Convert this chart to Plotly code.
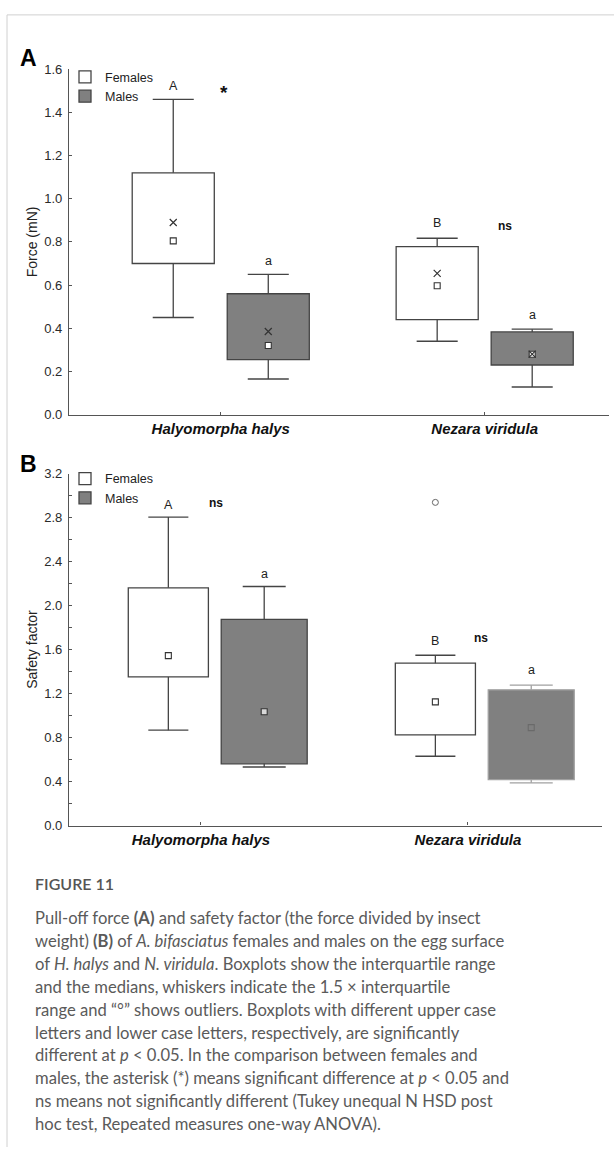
import plotly.graph_objects as go

W, H = 614, 1155

# ---------------- data ----------------
species = ["Halyomorpha halys", "Nezara viridula"]
species_labels = ["<b><i>Halyomorpha halys</i></b>", "<b><i>Nezara viridula</i></b>"]

# Panel A: pull-off force (mN)
force_f_q1 = [0.70, 0.44]
force_f_q3 = [1.12, 0.778]
force_f_low = [0.45, 0.34]
force_f_high = [1.46, 0.817]
force_f_median = [0.805, 0.597]
force_f_mean = [0.89, 0.654]

force_m_q1 = [0.255, 0.23]
force_m_q3 = [0.56, 0.383]
force_m_low = [0.165, 0.128]
force_m_high = [0.65, 0.396]
force_m_median = [0.32, 0.28]
force_m_mean = [0.385, 0.28]

force_f_letters = ["A", "B"]
force_f_letter_y = [1.52, 0.887]
force_m_letters = ["a", "a"]
force_m_letter_y = [0.713, 0.463]
force_sig = ["*", "ns"]
force_sig_y = [1.49, 0.873]

# Panel B: safety factor
sf_f_q1 = [1.351, 0.825]
sf_f_q3 = [2.161, 1.476]
sf_f_low = [0.867, 0.630]
sf_f_high = [2.804, 1.548]
sf_f_median = [1.545, 1.124]
sf_f_outlier = [None, 2.938]

sf_m_q1 = [0.561, 0.418]
sf_m_q3 = [1.874, 1.234]
sf_m_low = [0.532, 0.388]
sf_m_high = [2.173, 1.276]
sf_m_median = [1.034, 0.890]

sf_f_letters = ["A", "B"]
sf_f_letter_y = [2.918, 1.682]
sf_m_letters = ["a", "a"]
sf_m_letter_y = [2.287, 1.413]
sf_sig = ["ns", "ns"]
sf_sig_y = [2.935, 1.704]

caption_title = "FIGURE 11"
caption_lines = [
    "Pull-off force <b>(A)</b> and safety factor (the force divided by insect",
    "weight) <b>(B)</b> of <i>A. bifasciatus</i> females and males on the egg surface",
    "of <i>H. halys</i> and <i>N. viridula</i>. Boxplots show the interquartile range",
    "and the medians, whiskers indicate the 1.5 \u00d7 interquartile",
    "range and \u201c\u00b0\u201d shows outliers. Boxplots with different upper case",
    "letters and lower case letters, respectively, are significantly",
    "different at <i>p</i> &lt; 0.05. In the comparison between females and",
    "males, the asterisk (*) means significant difference at <i>p</i> &lt; 0.05 and",
    "ns means not significantly different (Tukey unequal N HSD post",
    "hoc test, Repeated measures one-way ANOVA).",
]

# ---------------- style ----------------
FONT = "Liberation Sans, Arial, sans-serif"
CAP_FONT = "Lato, Open Sans, sans-serif"
AX = "#555555"
BOX_LINE = "#444444"
MALE_FILL = "#808080"
cats = [0, 1]

# offsets of female / male boxes from the category position, and box widths
A_OFF = (-0.18, 0.18)
A_W = (0.311, 0.311)
B_OFF = (-0.122, 0.237)
B_W = (0.30, 0.322)


def px_x(p):
    return p / W


def px_y(p):
    return 1 - p / H


fig = go.Figure()


def add_group(xa, ya, xs, q1, q3, lo, hi, width, fill, line_colors, name, legend, show):
    # box body: bar from q1 to q3
    fig.add_trace(go.Bar(
        x=xs, base=q1, y=[b - a for a, b in zip(q1, q3)], width=width,
        marker=dict(color=fill, line=dict(color=line_colors, width=1.3)),
        name=name, showlegend=show, legend=legend, xaxis=xa, yaxis=ya,
        hoverinfo="skip"))
    # whiskers with caps
    for x, a, b, l, h, lc in zip(xs, q1, q3, lo, hi, line_colors):
        cap = width * 0.25
        fig.add_trace(go.Scatter(
            x=[x, x, None, x - cap, x + cap, None, x, x, None, x - cap, x + cap],
            y=[b, h, None, h, h, None, a, l, None, l, l],
            mode="lines", line=dict(color=lc, width=1.3),
            showlegend=False, xaxis=xa, yaxis=ya, hoverinfo="skip"))


# Panel A
add_group("x", "y", [c + A_OFF[0] for c in cats], force_f_q1, force_f_q3, force_f_low,
          force_f_high, A_W[0], "white", [BOX_LINE, BOX_LINE], "Females", "legend", True)
add_group("x", "y", [c + A_OFF[1] for c in cats], force_m_q1, force_m_q3, force_m_low,
          force_m_high, A_W[1], MALE_FILL, [BOX_LINE, BOX_LINE], "Males", "legend", True)

fig.add_trace(go.Scatter(
    x=[c + A_OFF[0] for c in cats] + [c + A_OFF[1] for c in cats],
    y=force_f_median + force_m_median, mode="markers",
    marker=dict(symbol="square", size=6, color="white",
                line=dict(color="#333333", width=1.1)),
    showlegend=False, xaxis="x", yaxis="y", hoverinfo="skip"))
fig.add_trace(go.Scatter(
    x=[c + A_OFF[0] for c in cats] + [c + A_OFF[1] for c in cats],
    y=force_f_mean + force_m_mean, mode="markers",
    marker=dict(symbol="x-thin-open", size=7, color="#333333",
                line=dict(color="#333333", width=1.2)),
    showlegend=False, xaxis="x", yaxis="y", hoverinfo="skip"))

# Panel B
add_group("x2", "y2", [c + B_OFF[0] for c in cats], sf_f_q1, sf_f_q3, sf_f_low,
          sf_f_high, B_W[0], "white", [BOX_LINE, BOX_LINE], "Females", "legend2", True)
add_group("x2", "y2", [c + B_OFF[1] for c in cats], sf_m_q1, sf_m_q3, sf_m_low,
          sf_m_high, B_W[1], MALE_FILL, [BOX_LINE, "#a0a0a0"], "Males", "legend2", True)

fig.add_trace(go.Scatter(
    x=[c + B_OFF[0] for c in cats] + [c + B_OFF[1] for c in cats],
    y=sf_f_median + sf_m_median, mode="markers",
    marker=dict(symbol="square", size=6,
                color=["white", "white", "#d8d8d8", MALE_FILL],
                line=dict(color=["#333333", "#333333", "#333333", "#6a6a6a"], width=1.1)),
    showlegend=False, xaxis="x2", yaxis="y2", hoverinfo="skip"))
fig.add_trace(go.Scatter(
    x=[c + B_OFF[0] for c in cats], y=sf_f_outlier, mode="markers",
    marker=dict(symbol="circle-open", size=6, color="#666666", line=dict(width=1)),
    showlegend=False, xaxis="x2", yaxis="y2", hoverinfo="skip"))

# ---------------- annotations ----------------
ann = []


def txt(x, y, s, xref, yref, size=12.5, bold=False, color="#222222"):
    ann.append(dict(x=x, y=y, xref=xref, yref=yref, text=("<b>%s</b>" % s) if bold else s,
                    showarrow=False, xanchor="center", yanchor="middle",
                    font=dict(family=FONT, size=size, color=color)))


for i, c in enumerate(cats):
    txt(c + A_OFF[0], force_f_letter_y[i], force_f_letters[i], "x", "y")
    txt(c + A_OFF[1], force_m_letter_y[i], force_m_letters[i], "x", "y")
    txt(c + B_OFF[0], sf_f_letter_y[i], sf_f_letters[i], "x2", "y2")
    txt(c + B_OFF[1], sf_m_letter_y[i], sf_m_letters[i], "x2", "y2")

txt(cats[0] + 0.013, force_sig_y[0], force_sig[0], "x", "y", size=19, bold=True, color="#111111")
txt(cats[1] + 0.076, force_sig_y[1], force_sig[1], "x", "y", size=12, bold=True, color="#111111")
txt(cats[0] + 0.056, sf_sig_y[0], sf_sig[0], "x2", "y2", size=12, bold=True, color="#111111")
txt(cats[1] + 0.049, sf_sig_y[1], sf_sig[1], "x2", "y2", size=12, bold=True, color="#111111")

# panel letters
for lab, py in (("A", 52), ("B", 463)):
    ann.append(dict(x=px_x(28), y=px_y(py), xref="paper", yref="paper", text="<b>%s</b>" % lab,
                    showarrow=False, xanchor="center", yanchor="middle",
                    font=dict(family=FONT, size=23, color="#000000")))

# caption
ann.append(dict(x=px_x(33), y=px_y(888), xref="paper", yref="paper", text=caption_title,
                showarrow=False, xanchor="left", yanchor="middle",
                font=dict(family=CAP_FONT, size=16, color="#555555", weight=600)))
for i, line in enumerate(caption_lines):
    ann.append(dict(x=px_x(33), y=px_y(923 + 23.2 * i), xref="paper", yref="paper", text=line,
                    showarrow=False, xanchor="left", yanchor="middle",
                    font=dict(family=CAP_FONT, size=16.6, color="#5a5a5a")))

# card border (top and left edges)
shapes = [
    dict(type="line", xref="paper", yref="paper", x0=px_x(7), x1=1, y0=px_y(8), y1=px_y(8),
         line=dict(color="#d0d0d0", width=1)),
    dict(type="line", xref="paper", yref="paper", x0=px_x(7), x1=px_x(7), y0=px_y(8), y1=0,
         line=dict(color="#d0d0d0", width=1)),
]

axis_common = dict(showline=True, linecolor=AX, linewidth=1.2, showgrid=False, zeroline=False,
                   ticks="inside", ticklen=3, tickcolor=AX, tickwidth=1,
                   tickfont=dict(family=FONT, size=13, color="#2a2a2a"))
xtickfont = dict(family=FONT, size=15, color="#111111")

fig.update_layout(
    width=W, height=H, margin=dict(l=0, r=0, t=0, b=0),
    paper_bgcolor="white", plot_bgcolor="white",
    showlegend=True, barmode="overlay",
    xaxis=dict(domain=[px_x(69), px_x(609)], range=[-0.575, 1.471], anchor="y",
               tickvals=cats, ticktext=species_labels,
               **{**axis_common, "tickfont": xtickfont}),
    yaxis=dict(domain=[px_y(413), px_y(63)], range=[0, 1.6], anchor="x",
               tickvals=[0, 0.2, 0.4, 0.6, 0.8, 1.0, 1.2, 1.4, 1.6], tickformat=".1f",
               ticklabelstandoff=3,
               title=dict(text="Force (mN)", standoff=3,
                          font=dict(family=FONT, size=14, color="#222222")),
               **axis_common),
    xaxis2=dict(domain=[px_x(69), px_x(602)], range=[-0.494, 1.502], anchor="y2",
                tickvals=cats, ticktext=species_labels,
                **{**axis_common, "tickfont": xtickfont}),
    yaxis2=dict(domain=[px_y(829.3), px_y(472.7)], range=[0, 3.2], anchor="x2",
                tickvals=[0, 0.4, 0.8, 1.2, 1.6, 2.0, 2.4, 2.8, 3.2], tickformat=".1f",
                ticklabelstandoff=3,
                minor=dict(tickvals=[0.2, 0.6, 1.0, 1.4, 1.8, 2.2, 2.6, 3.0],
                           ticks="inside", ticklen=3, tickcolor=AX),
                title=dict(text="Safety factor", standoff=3,
                           font=dict(family=FONT, size=14, color="#222222")),
                **axis_common),
    legend=dict(x=px_x(65), y=px_y(56), xanchor="left", yanchor="top",
                bgcolor="rgba(0,0,0,0)", font=dict(family=FONT, size=12.5, color="#222222"),
                tracegroupgap=0, itemclick=False),
    legend2=dict(x=px_x(65), y=px_y(463), xanchor="left", yanchor="top",
                 bgcolor="rgba(0,0,0,0)", font=dict(family=FONT, size=12.5, color="#222222"),
                 tracegroupgap=0, itemclick=False),
    annotations=ann, shapes=shapes,
)

fig.write_html("out.html")
